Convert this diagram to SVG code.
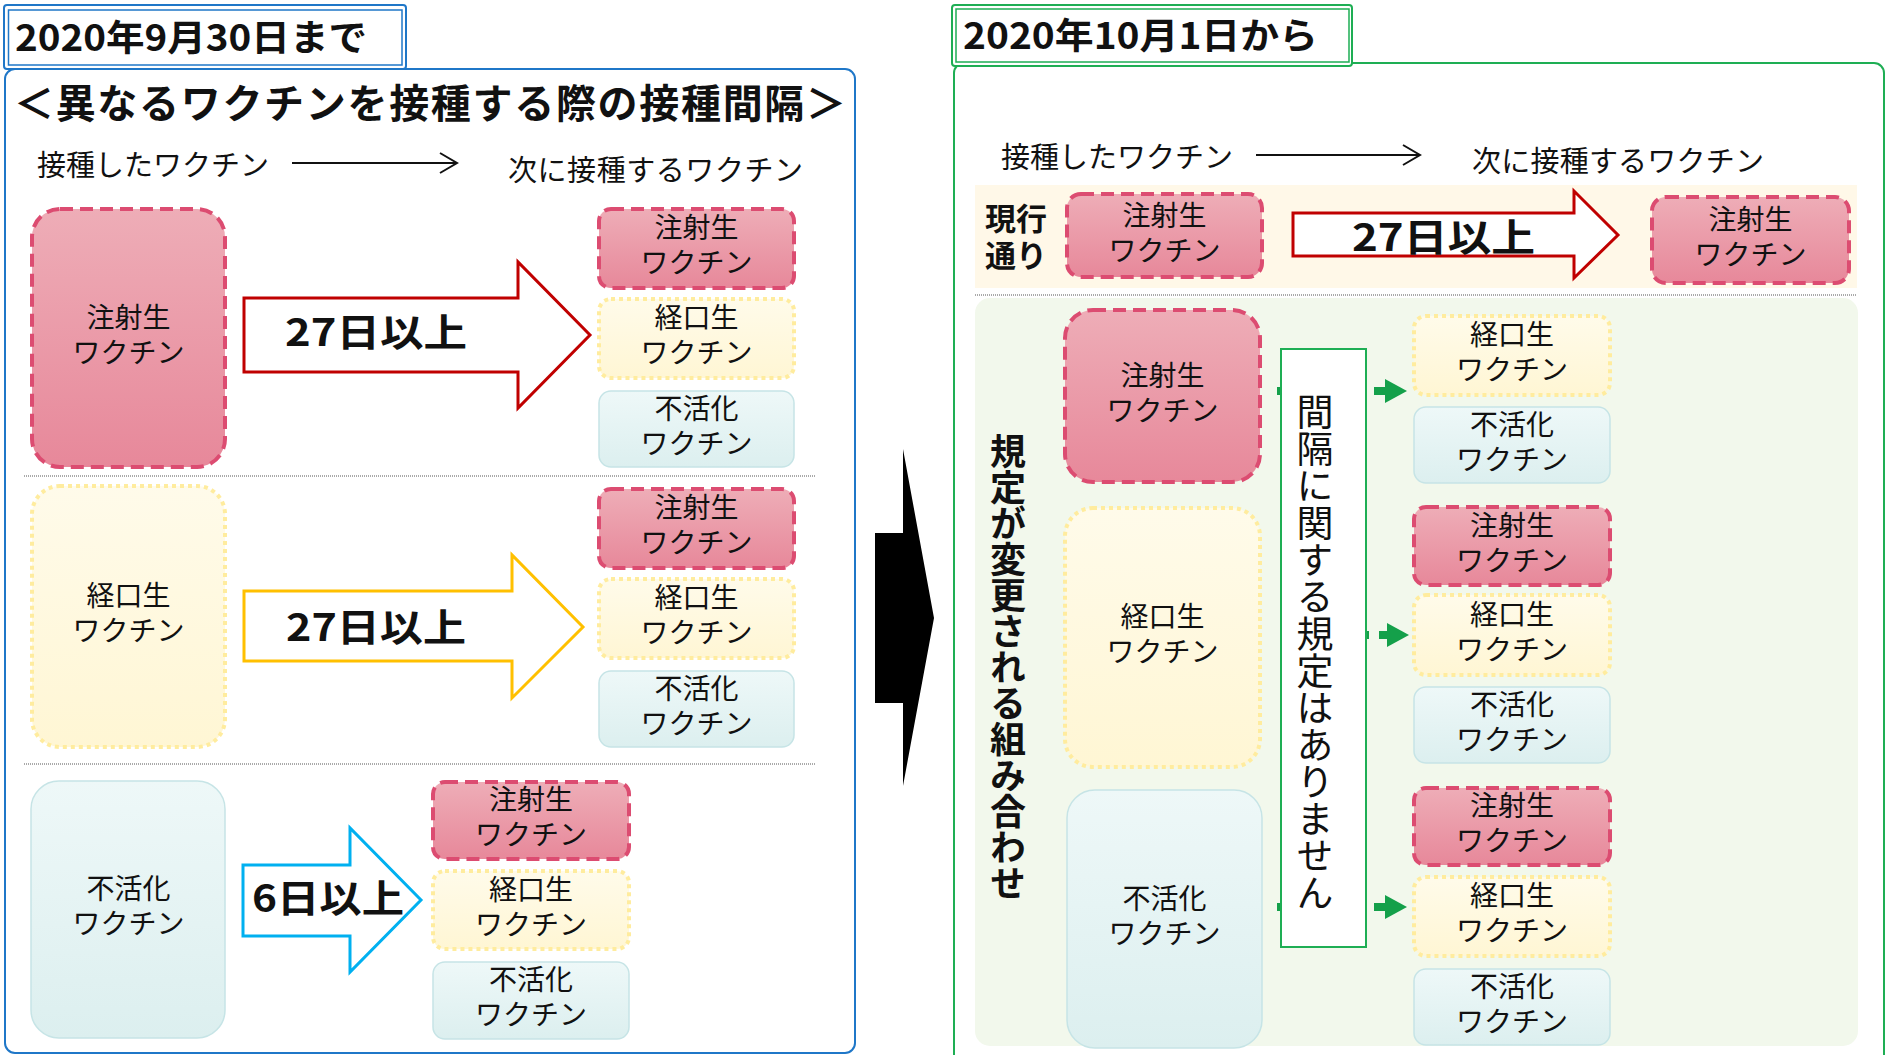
<svg xmlns="http://www.w3.org/2000/svg" width="1887" height="1055" viewBox="0 0 1887 1055">
<defs>
<linearGradient id="gPink" x1="0" y1="0" x2="0" y2="1"><stop offset="0" stop-color="#EEADB7"/><stop offset="1" stop-color="#E7889A"/></linearGradient>
<linearGradient id="gYel" x1="0" y1="0" x2="0" y2="1"><stop offset="0" stop-color="#FFFBEA"/><stop offset="1" stop-color="#FFF6D4"/></linearGradient>
<linearGradient id="gBlue" x1="0" y1="0" x2="0" y2="1"><stop offset="0" stop-color="#EEF8F8"/><stop offset="1" stop-color="#DCEFEF"/></linearGradient>
<marker id="gHead" viewBox="0 0 22 24" refX="1" refY="12" markerWidth="22" markerHeight="24" markerUnits="userSpaceOnUse" orient="auto"><path d="M0,0 L22,12 L0,24 Z" fill="#14A04A"/></marker>
</defs>
<style>
text{font-family:"Noto Sans CJK JP","Noto Sans CJK SC",sans-serif;fill:#111}
.inj{fill:url(#gPink);stroke:#DC4C71;stroke-width:4;stroke-dasharray:13 7}
.oral{fill:url(#gYel);stroke:#FFEC9E;stroke-width:4;stroke-dasharray:4 4}
.inact{fill:url(#gBlue);stroke:#C6E4E6;stroke-width:1.5}
.lbl{font-size:28px;text-anchor:middle}
.hdr{font-size:29px}
.ttl{font-size:36px;font-weight:bold}
.big{font-size:38px;font-weight:bold}
.sep{stroke:#555;stroke-width:1;stroke-dasharray:1 1}
.thin{fill:none;stroke:#111;stroke-width:2}
.conn{fill:none;stroke:#14A04A;stroke-width:8}
</style>
<rect x="0" y="0" width="1887" height="1055" fill="#fff"/>

<!-- Left panel frame -->
<g id="left-panel">
<rect x="5" y="69" width="850" height="984" rx="10" fill="#fff" stroke="#1F77C8" stroke-width="2"/>
<rect x="4" y="5" width="402" height="64" rx="3" fill="#fff" stroke="#1F77C8" stroke-width="2"/>
<rect x="8.5" y="10" width="393.5" height="55" fill="none" stroke="#1F77C8" stroke-width="1.5"/>
<text class="ttl" x="15" y="51" textLength="352" lengthAdjust="spacingAndGlyphs">2020年9月30日まで</text>
<text x="14" y="117.5" font-size="40" font-weight="bold" textLength="832">＜異なるワクチンを接種する際の接種間隔＞</text>
<text class="hdr" x="37" y="176">接種したワクチン</text>
<text class="hdr" x="508" y="181" textLength="295">次に接種するワクチン</text>
<line class="thin" x1="292" y1="163" x2="456" y2="163"/>
<polyline class="thin" points="440,153 457,163 440,173"/>
<line class="sep" x1="24" y1="476" x2="816" y2="476"/>
<line class="sep" x1="24" y1="764" x2="816" y2="764"/>
</g>

<!-- Right panel frame -->
<g id="right-panel">
<rect x="954" y="63" width="930" height="1010" rx="10" fill="#fff" stroke="#1EAE54" stroke-width="2"/>
<rect x="952" y="5" width="400" height="61" rx="3" fill="#fff" stroke="#1EAE54" stroke-width="2"/>
<rect x="956" y="9" width="393" height="53" fill="none" stroke="#1EAE54" stroke-width="1.5"/>
<text class="ttl" x="963" y="49" textLength="355" lengthAdjust="spacingAndGlyphs">2020年10月1日から</text>
<text class="hdr" x="1001" y="168" textLength="232">接種したワクチン</text>
<text class="hdr" x="1472" y="172" textLength="292">次に接種するワクチン</text>
<line class="thin" x1="1256" y1="155" x2="1419" y2="155"/>
<polyline class="thin" points="1403,145 1420,155 1403,165"/>
<rect x="975" y="185" width="882" height="103" fill="#FFF8E8"/>
<line class="sep" x1="975" y1="295" x2="1857" y2="295"/>
<rect x="975" y="298" width="883" height="748" rx="15" fill="#F2F8EC"/>
<text x="985" y="230" font-size="31" font-weight="bold"><tspan x="985" y="230">現行</tspan><tspan x="985" dy="37">通り</tspan></text>
<text x="1008" y="433" font-size="36" font-weight="bold" writing-mode="vertical-rl">規定が変更される組み合わせ</text>
</g>

<!-- Transition arrow -->
<g id="transition-arrow">
<polygon points="875,533 903,533 903,449 934,618 903,786 903,703 875,703" fill="#000"/>
</g>

<!-- Connectors -->
<g id="connectors">
<polygon points="244,298 518,298 518,262 590,335 518,408 518,372 244,372" fill="#fff" stroke="#C00000" stroke-width="3"/>
<text class="big" x="285" y="346" textLength="182" lengthAdjust="spacingAndGlyphs">27日以上</text>
<polygon points="244,591 512,591 512,555 583,627 512,698 512,661 244,661" fill="#fff" stroke="#FFC000" stroke-width="3"/>
<text class="big" x="286" y="641" textLength="180" lengthAdjust="spacingAndGlyphs">27日以上</text>
<polygon points="243,865 350,865 350,828 421,900 350,972 350,936 243,936" fill="#fff" stroke="#00B0F0" stroke-width="3"/>
<text class="big" x="252" y="912" textLength="152" lengthAdjust="spacingAndGlyphs">6日以上</text>
<polygon points="1293,213 1574,213 1574,191 1618,235 1574,278 1574,256 1293,256" fill="#fff" stroke="#C00000" stroke-width="3"/>
<text class="big" x="1352" y="251" textLength="183" lengthAdjust="spacingAndGlyphs">27日以上</text>
<path class="conn" d="M1277,391 H1300 M1374,391 H1386" marker-end="url(#gHead)"/>
<path class="conn" d="M1350,635 H1369 M1379,635 H1388" marker-end="url(#gHead)"/>
<path class="conn" d="M1277,907 H1300 M1374,907 H1386" marker-end="url(#gHead)"/>
</g>

<!-- Left panel nodes -->
<g id="L-src-inj"><rect class="inj" x="32" y="209" width="193" height="258" rx="28"/><text class="lbl"><tspan x="128.5" y="327.5">注射生</tspan><tspan x="128.5" dy="35">ワクチン</tspan></text></g>
<g id="L-src-oral"><rect class="oral" x="32" y="486" width="193" height="261" rx="28"/><text class="lbl"><tspan x="128.5" y="606">経口生</tspan><tspan x="128.5" dy="35">ワクチン</tspan></text></g>
<g id="L-src-inact"><rect class="inact" x="31" y="781" width="194" height="257" rx="28"/><text class="lbl"><tspan x="128.5" y="899">不活化</tspan><tspan x="128.5" dy="35">ワクチン</tspan></text></g>

<g id="L1-inj"><rect class="inj" x="599" y="209" width="195" height="79" rx="12"/><text class="lbl"><tspan x="696.5" y="238">注射生</tspan><tspan x="696.5" dy="35">ワクチン</tspan></text></g>
<g id="L1-oral"><rect class="oral" x="599" y="299" width="195" height="79" rx="12"/><text class="lbl"><tspan x="696.5" y="328">経口生</tspan><tspan x="696.5" dy="35">ワクチン</tspan></text></g>
<g id="L1-inact"><rect class="inact" x="599" y="391" width="195" height="76" rx="12"/><text class="lbl"><tspan x="696.5" y="418.5">不活化</tspan><tspan x="696.5" dy="35">ワクチン</tspan></text></g>

<g id="L2-inj"><rect class="inj" x="599" y="489" width="195" height="79" rx="12"/><text class="lbl"><tspan x="696.5" y="518">注射生</tspan><tspan x="696.5" dy="35">ワクチン</tspan></text></g>
<g id="L2-oral"><rect class="oral" x="599" y="579" width="195" height="79" rx="12"/><text class="lbl"><tspan x="696.5" y="608">経口生</tspan><tspan x="696.5" dy="35">ワクチン</tspan></text></g>
<g id="L2-inact"><rect class="inact" x="599" y="671" width="195" height="76" rx="12"/><text class="lbl"><tspan x="696.5" y="698.5">不活化</tspan><tspan x="696.5" dy="35">ワクチン</tspan></text></g>

<g id="L3-inj"><rect class="inj" x="433" y="782" width="196" height="77" rx="12"/><text class="lbl"><tspan x="531" y="810">注射生</tspan><tspan x="531" dy="35">ワクチン</tspan></text></g>
<g id="L3-oral"><rect class="oral" x="433" y="871" width="196" height="78" rx="12"/><text class="lbl"><tspan x="531" y="899.5">経口生</tspan><tspan x="531" dy="35">ワクチン</tspan></text></g>
<g id="L3-inact"><rect class="inact" x="433" y="962" width="196" height="77" rx="12"/><text class="lbl"><tspan x="531" y="990">不活化</tspan><tspan x="531" dy="35">ワクチン</tspan></text></g>

<!-- Right panel nodes -->
<g id="R-cur-src"><rect class="inj" x="1067" y="194" width="195" height="83" rx="14"/><text class="lbl"><tspan x="1164.5" y="225.5">注射生</tspan><tspan x="1164.5" dy="35">ワクチン</tspan></text></g>
<g id="R-cur-dst"><rect class="inj" x="1652" y="197" width="197" height="86" rx="14"/><text class="lbl"><tspan x="1750.5" y="229.5">注射生</tspan><tspan x="1750.5" dy="35">ワクチン</tspan></text></g>

<g id="R-src-inj"><rect class="inj" x="1065" y="310" width="195" height="172" rx="28"/><text class="lbl"><tspan x="1162.5" y="385.5">注射生</tspan><tspan x="1162.5" dy="35">ワクチン</tspan></text></g>
<g id="R-src-oral"><rect class="oral" x="1065" y="508" width="195" height="259" rx="28"/><text class="lbl"><tspan x="1162.5" y="627">経口生</tspan><tspan x="1162.5" dy="35">ワクチン</tspan></text></g>
<g id="R-src-inact"><rect class="inact" x="1067" y="790" width="195" height="258" rx="28"/><text class="lbl"><tspan x="1164.5" y="908.5">不活化</tspan><tspan x="1164.5" dy="35">ワクチン</tspan></text></g>

<g id="R-no-rule"><rect x="1281" y="349" width="85" height="598" fill="#fff" stroke="#1EAE54" stroke-width="2"/><text x="1315" y="393" font-size="37" writing-mode="vertical-rl">間隔に関する規定はありません</text></g>

<g id="R1-oral"><rect class="oral" x="1414" y="316" width="196" height="79" rx="12"/><text class="lbl"><tspan x="1512" y="345">経口生</tspan><tspan x="1512" dy="35">ワクチン</tspan></text></g>
<g id="R1-inact"><rect class="inact" x="1414" y="407" width="196" height="76" rx="12"/><text class="lbl"><tspan x="1512" y="434.5">不活化</tspan><tspan x="1512" dy="35">ワクチン</tspan></text></g>

<g id="R2-inj"><rect class="inj" x="1414" y="507" width="196" height="78" rx="12"/><text class="lbl"><tspan x="1512" y="535.5">注射生</tspan><tspan x="1512" dy="35">ワクチン</tspan></text></g>
<g id="R2-oral"><rect class="oral" x="1414" y="595" width="196" height="80" rx="12"/><text class="lbl"><tspan x="1512" y="624.5">経口生</tspan><tspan x="1512" dy="35">ワクチン</tspan></text></g>
<g id="R2-inact"><rect class="inact" x="1414" y="687" width="196" height="76" rx="12"/><text class="lbl"><tspan x="1512" y="714.5">不活化</tspan><tspan x="1512" dy="35">ワクチン</tspan></text></g>

<g id="R3-inj"><rect class="inj" x="1414" y="788" width="196" height="77" rx="12"/><text class="lbl"><tspan x="1512" y="816">注射生</tspan><tspan x="1512" dy="35">ワクチン</tspan></text></g>
<g id="R3-oral"><rect class="oral" x="1414" y="877" width="196" height="79" rx="12"/><text class="lbl"><tspan x="1512" y="906">経口生</tspan><tspan x="1512" dy="35">ワクチン</tspan></text></g>
<g id="R3-inact"><rect class="inact" x="1414" y="969" width="196" height="76" rx="12"/><text class="lbl"><tspan x="1512" y="996.5">不活化</tspan><tspan x="1512" dy="35">ワクチン</tspan></text></g>
</svg>
